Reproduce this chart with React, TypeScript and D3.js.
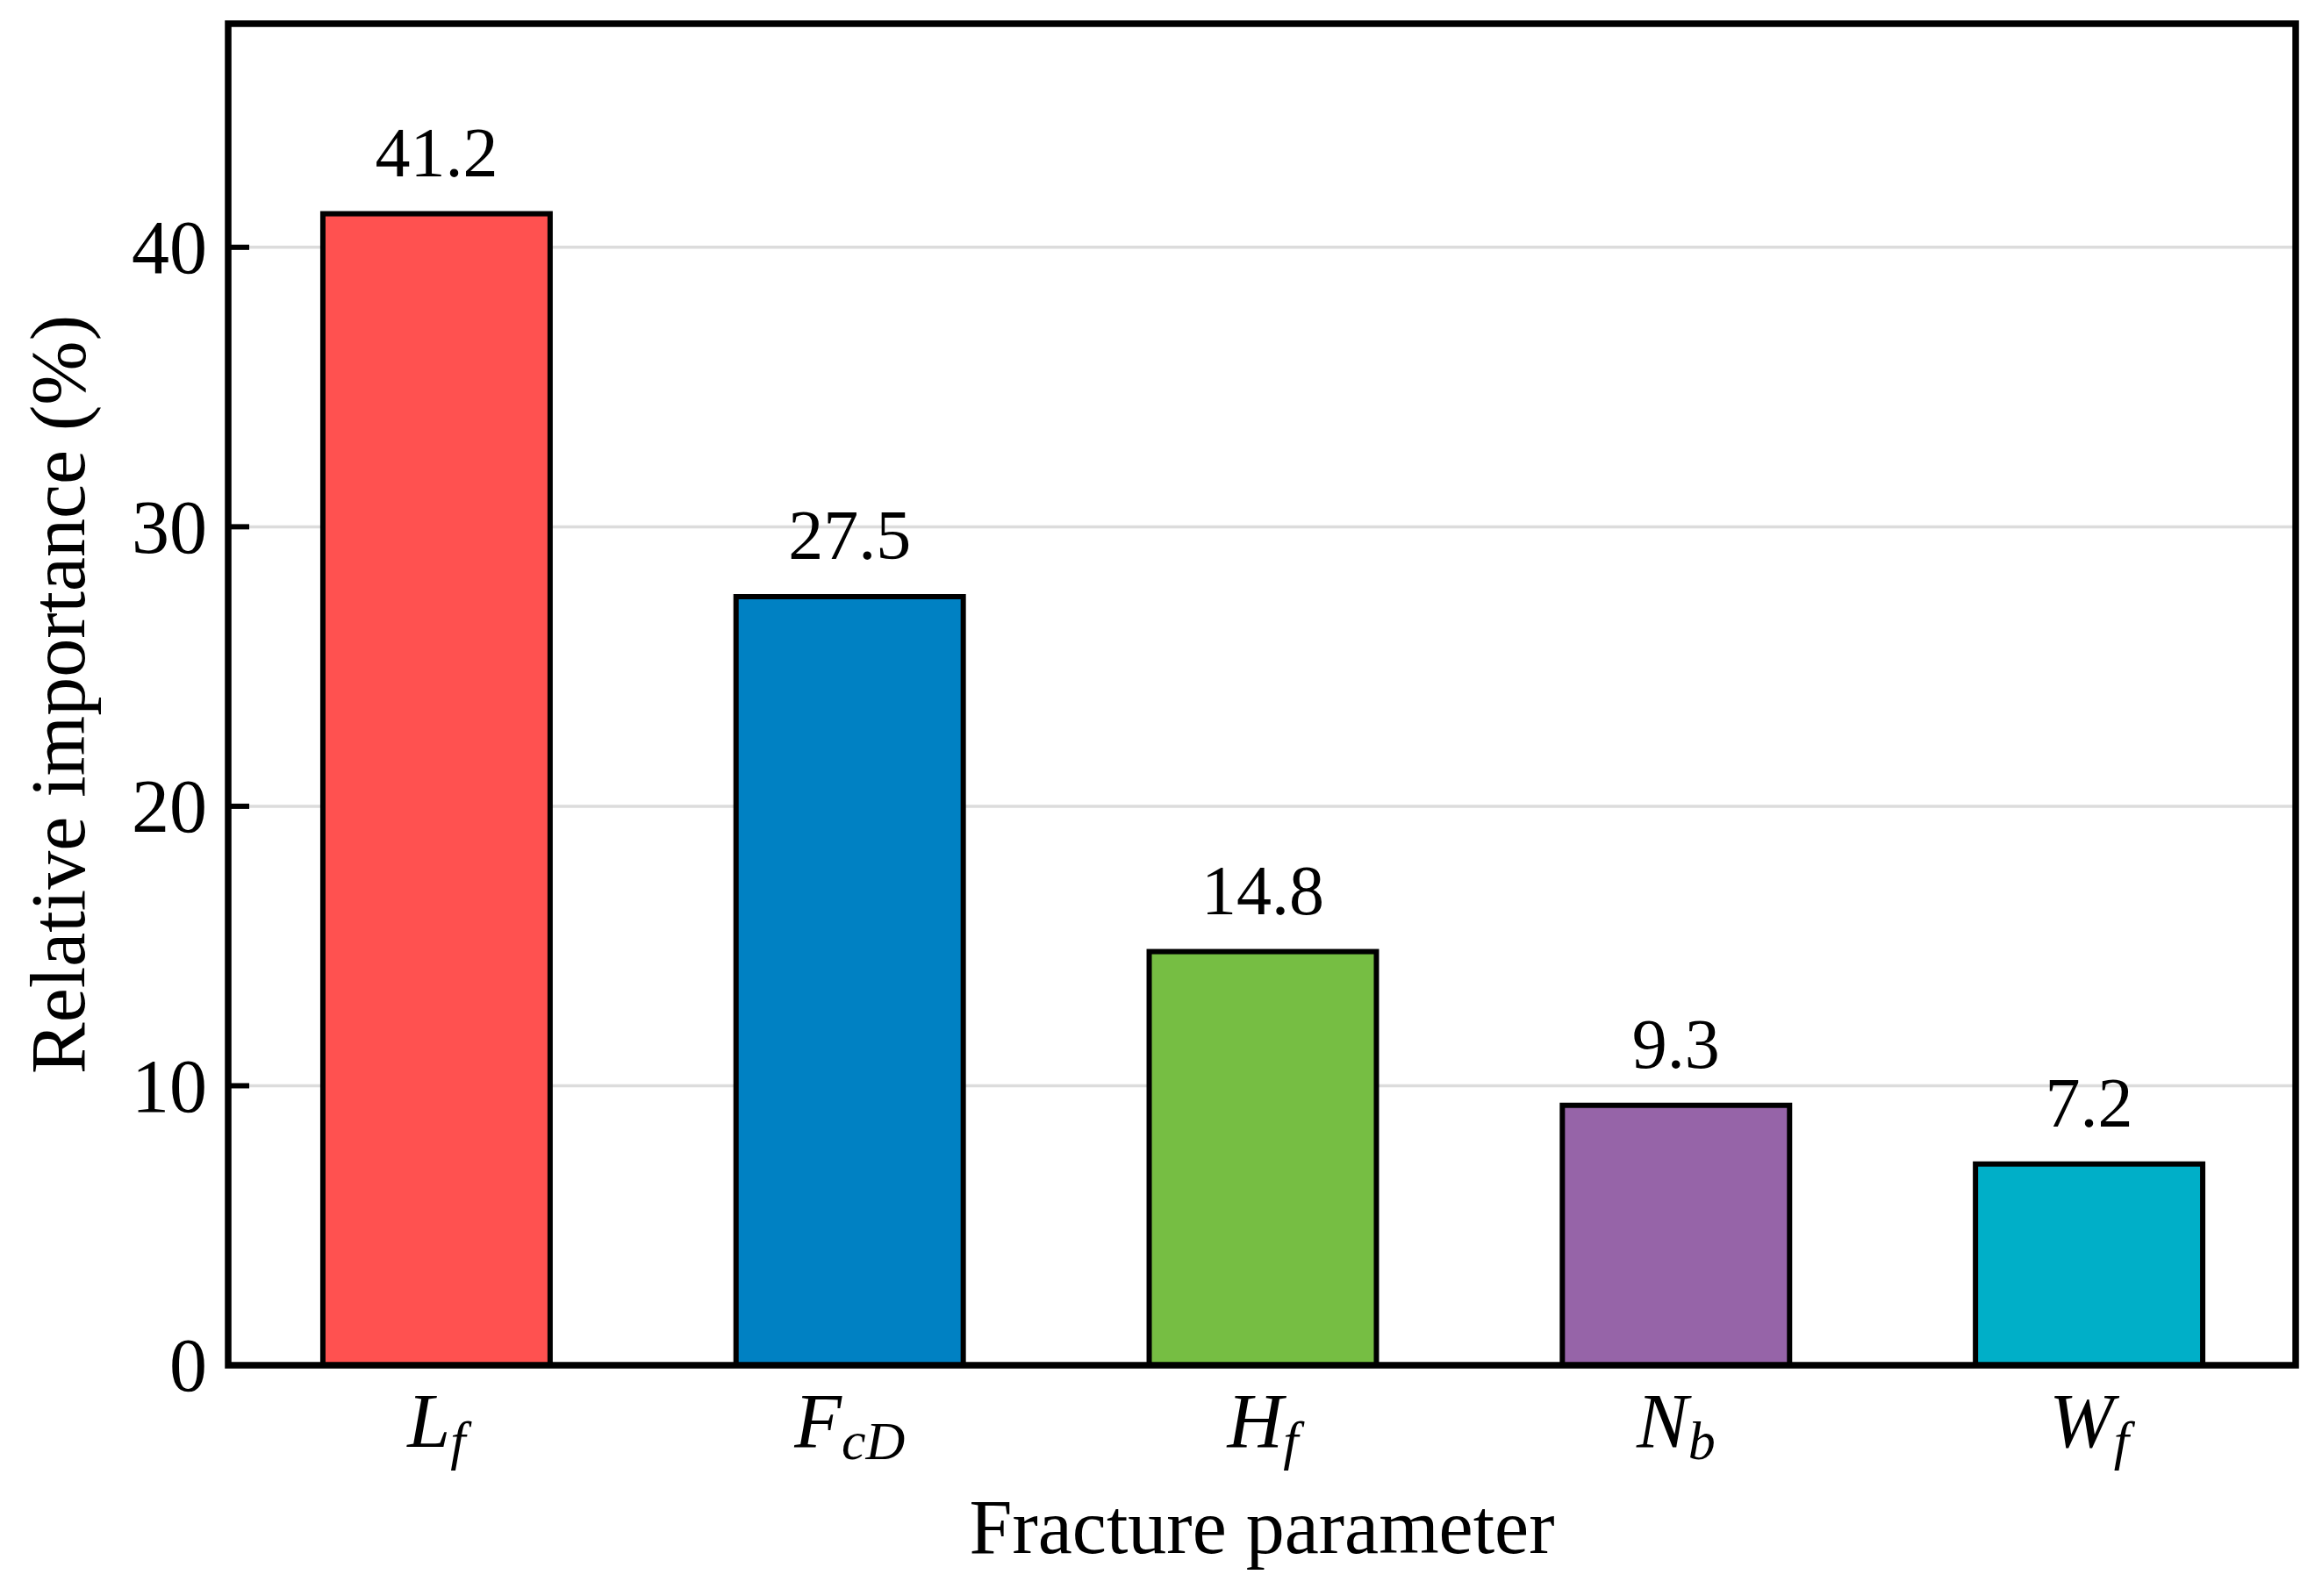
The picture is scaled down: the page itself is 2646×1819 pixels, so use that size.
import React from "react";
import * as d3 from "d3";

const categories = ["L", "F", "H", "N", "W"];
const subscripts = ["f", "cD", "f", "b", "f"];
const values = [41.2, 27.5, 14.8, 9.3, 7.2];
const colors = ["#FF5150", "#0081C3", "#76BE43", "#9664A8", "#00AFC8"];
const yTicks = [0, 10, 20, 30, 40];

const W = 2646;
const H = 1819;
const M = { left: 260, right: 30, top: 27, bottom: 263 };
const FONT = "'Liberation Serif', 'Times New Roman', serif";

export default function App() {
  const innerW = W - M.left - M.right;
  const innerH = H - M.top - M.bottom;
  const x = d3
    .scaleBand<number>()
    .domain(d3.range(values.length))
    .range([M.left + 2, M.left + innerW])
    .paddingInner(0.45)
    .paddingOuter(0.225);
  const y = d3.scaleLinear().domain([0, 48]).range([M.top + innerH, M.top]);
  const bottom = y(0);

  return (
    <svg
      width={W}
      height={H}
      style={{ position: "absolute", left: 0, top: 0, background: "#fff" }}
      fontFamily={FONT}
    >
      <rect x={0} y={0} width={W} height={H} fill="#fff" />
      {/* grid */}
      {yTicks
        .filter((t) => t > 0)
        .map((t) => (
          <line
            key={"g" + t}
            x1={M.left}
            x2={M.left + innerW}
            y1={y(t)}
            y2={y(t)}
            stroke="#dcdcdc"
            strokeWidth={3.5}
          />
        ))}
      {/* bars */}
      {values.map((v, i) => (
        <rect
          key={"b" + i}
          x={x(i)}
          y={y(v)}
          width={x.bandwidth()}
          height={bottom - y(v)}
          fill={colors[i]}
          stroke="#000"
          strokeWidth={6}
        />
      ))}
      {/* value labels */}
      {values.map((v, i) => (
        <text
          key={"v" + i}
          x={(x(i) as number) + x.bandwidth() / 2}
          y={y(v) - 43}
          textAnchor="middle"
          fontSize={80}
          fill="#000"
        >
          {v.toFixed(1)}
        </text>
      ))}
      {/* y ticks */}
      {yTicks.map((t) => (
        <g key={"t" + t}>
          <line
            x1={M.left}
            x2={M.left + 24}
            y1={y(t)}
            y2={y(t)}
            stroke="#000"
            strokeWidth={6}
          />
          <text
            x={M.left - 24}
            y={y(t)}
            dy="0.34em"
            textAnchor="end"
            fontSize={86}
            fill="#000"
          >
            {t}
          </text>
        </g>
      ))}
      {/* frame */}
      <rect
        x={M.left}
        y={M.top}
        width={innerW}
        height={innerH}
        fill="none"
        stroke="#000"
        strokeWidth={7.5}
      />
      {/* x tick labels */}
      {categories.map((c, i) => (
        <text
          key={"x" + i}
          x={(x(i) as number) + x.bandwidth() / 2}
          y={bottom + 93}
          textAnchor="middle"
          fontSize={88}
          fontStyle="italic"
          fill="#000"
        >
          {c}
          <tspan fontSize={62} dy={14}>
            {subscripts[i]}
          </tspan>
        </text>
      ))}
      {/* x axis title */}
      <text
        x={M.left + innerW / 2}
        y={1770}
        textAnchor="middle"
        fontSize={88}
        fill="#000"
      >
        Fracture parameter
      </text>
      {/* y axis title */}
      <text
        transform={`translate(96, ${M.top + innerH / 2}) rotate(-90)`}
        textAnchor="middle"
        fontSize={88}
        fill="#000"
      >
        Relative importance (%)
      </text>
    </svg>
  );
}
